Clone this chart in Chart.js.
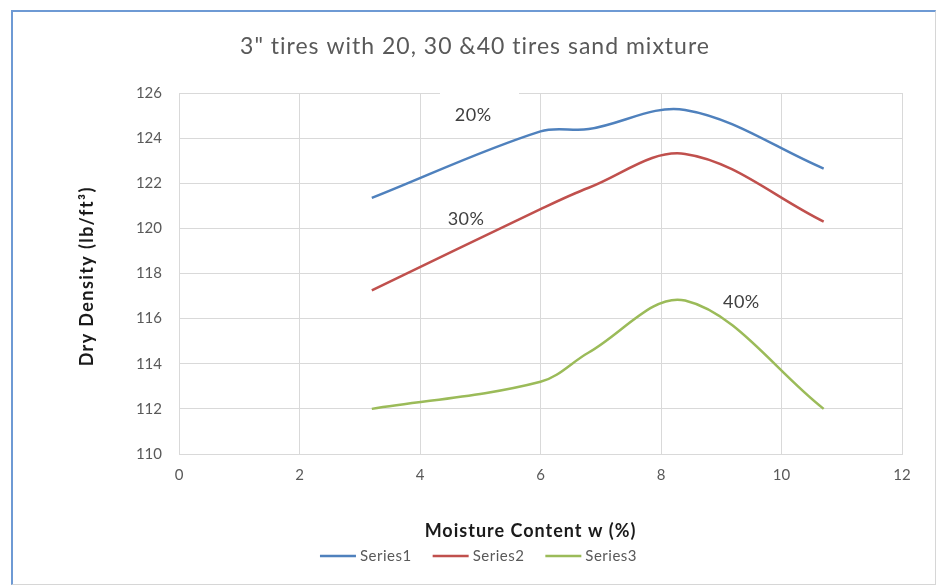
<!DOCTYPE html>
<html lang="en">
<head>
  <meta charset="UTF-8" />
  <title>3" tires with 20, 30 &amp;40 tires sand mixture</title>
  <script src="https://cdn.jsdelivr.net/npm/chart.js"></script>
  <style>
    html, body { margin: 0; padding: 0; background: #fff; }
    #wrap { position: relative; width: 938px; height: 588px; }
    #frame {
      position: absolute; left: 11px; top: 10px; right: 2px; bottom: 3px;
      border-top: 2px solid #6e9ad4; border-left: 2px solid #6e9ad4;
      border-right: 1px solid #d6d6d6; border-bottom: 1px solid #d6d6d6;
      pointer-events: none;
    }
  </style>
</head>
<body>
  <div id="wrap">
    <canvas id="densityChart" width="938" height="588"></canvas>
    <div id="frame"></div>
  </div>

  <script>
    // moisture content w (%) and dry density (lb/ft3) per mixture
    const moisture = [3.2, 6.0, 6.8, 8.4, 10.7];
    const series1 = [121.35, 124.3, 124.4, 125.25, 122.65];
    const series2 = [117.25, 120.85, 121.8, 123.3, 120.3];
    const series3 = [112.0, 113.2, 114.5, 116.8, 112.0];
    const seriesNames = ['Series1', 'Series2', 'Series3'];
    const seriesColors = ['#4f81bd', '#c0504d', '#9bbb59'];

    // text tags placed in data coordinates
    const tagText = ['20%', '30%', '40%'];
    const tagX = [4.88, 4.76, 9.33];
    const tagY = [125.0, 120.4, 116.75];

    const FONT = 'Lato, "Open Sans", sans-serif';

    const toPoints = ys => moisture.map((x, i) => ({ x, y: ys[i] }));

    // draw text with extra tracking, centred on (x, y)
    function spaced(ctx, text, x, y, spacing) {
      ctx.letterSpacing = spacing + 'px';
      ctx.fillText(text, x + spacing / 2, y);
      ctx.letterSpacing = '0px';
    }

    const decor = {
      id: 'decor',
      beforeDatasetsDraw(chart) {
        // white box behind the "20%" tag hides the top gridline
        const { ctx, scales } = chart;
        const cx = scales.x.getPixelForValue(tagX[0]);
        const cy = scales.y.getPixelForValue(tagY[0]);
        ctx.save();
        ctx.fillStyle = '#fff';
        ctx.fillRect(cx - 33, cy - 26, 79, 36);
        ctx.restore();
      },
      afterDraw(chart) {
        const { ctx, scales } = chart;
        ctx.save();
        ctx.textAlign = 'center';
        ctx.textBaseline = 'middle';

        ctx.fillStyle = '#595959';
        ctx.font = '23px ' + FONT;
        spaced(ctx, '3" tires with 20, 30 &40 tires sand mixture', 474.5, 47, 1);

        // axis titles
        ctx.fillStyle = '#1a1a1a';
        ctx.font = 'bold 18px ' + FONT;
        spaced(ctx, 'Moisture Content w (%)', 530, 531, 1);
        ctx.save();
        ctx.translate(87, 277);
        ctx.rotate(-Math.PI / 2);
        spaced(ctx, 'Dry Density (lb/ft³)', 0, 0, 1.4);
        ctx.restore();

        ctx.fillStyle = '#404040';
        ctx.font = '18px ' + FONT;
        tagText.forEach((t, i) => {
          spaced(ctx, t, scales.x.getPixelForValue(tagX[i]), scales.y.getPixelForValue(tagY[i]), 0.5);
        });

        // legend
        ctx.font = '15px ' + FONT;
        ctx.textAlign = 'left';
        ctx.letterSpacing = '0.5px';
        const lineLen = 36, gap = 4, spacing = 21;
        const widths = seriesNames.map(n => lineLen + gap + ctx.measureText(n).width);
        const total = widths.reduce((a, b) => a + b, 0) + spacing * (widths.length - 1);
        let x = 478.5 - total / 2;
        const y = 556;
        seriesNames.forEach((n, i) => {
          ctx.strokeStyle = seriesColors[i];
          ctx.lineWidth = 2.5;
          ctx.beginPath();
          ctx.moveTo(x, y);
          ctx.lineTo(x + lineLen, y);
          ctx.stroke();
          ctx.fillStyle = '#595959';
          ctx.fillText(n, x + lineLen + gap, y);
          x += widths[i] + spacing;
        });

        ctx.restore();
      }
    };

    new Chart(document.getElementById('densityChart'), {
      type: 'line',
      data: {
        datasets: [series1, series2, series3].map((s, i) => ({
          label: seriesNames[i],
          data: toPoints(s),
          borderColor: seriesColors[i],
          backgroundColor: seriesColors[i],
          borderWidth: 2.5,
          pointRadius: 0,
          tension: 0.35,
          fill: false
        }))
      },
      options: {
        responsive: false,
        animation: false,
        layout: { padding: { left: 12, top: 93, right: 36, bottom: 0 } },
        plugins: {
          legend: { display: false },
          title: { display: false },
          tooltip: { enabled: false }
        },
        scales: {
          x: {
            type: 'linear',
            min: 0,
            max: 12,
            afterFit: s => { s.height = 134; },
            ticks: { stepSize: 2, padding: 12, color: '#595959', font: { family: FONT, size: 15 } },
            grid: { color: '#d9d9d9', drawTicks: false },
            border: { color: '#d9d9d9' }
          },
          y: {
            min: 110,
            max: 126,
            afterFit: s => { s.width = 167; },
            ticks: { stepSize: 2, padding: 17, color: '#595959', font: { family: FONT, size: 15 } },
            grid: { color: '#d9d9d9', drawTicks: false },
            border: { color: '#d9d9d9' }
          }
        }
      },
      plugins: [decor]
    });
  </script>
</body>
</html>
